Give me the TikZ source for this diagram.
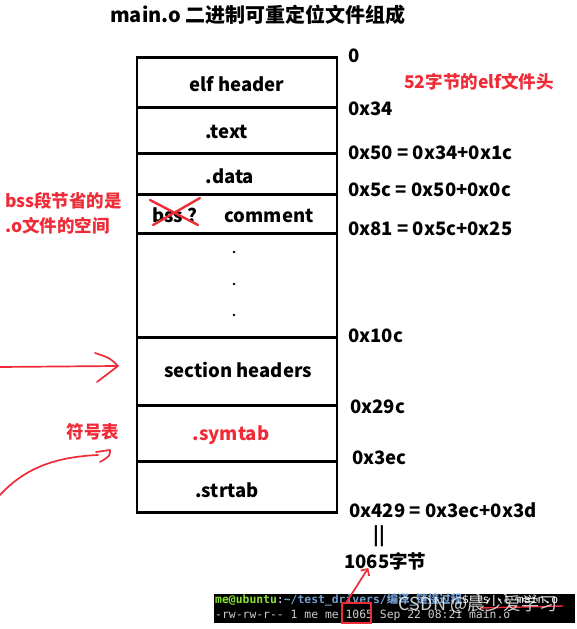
\documentclass[tikz,border=0pt]{standalone}
\usepackage{fontspec}
\setmainfont{Noto Sans CJK SC}
\newfontfamily\cjk{Noto Sans CJK SC}
\newfontfamily\termfont{DejaVu Sans Mono}
\usepackage{tikz}
\usetikzlibrary{calc, arrows.meta}

\definecolor{markred}{RGB}{238,44,56}
\definecolor{termgreen}{RGB}{138,226,52}
\definecolor{termblue}{RGB}{114,159,207}
\definecolor{termgray}{RGB}{205,205,205}

\tikzset{
  sec/.style={draw, line width=2.8pt, minimum width=200pt, anchor=north, inner sep=0pt},
  sectext/.style={font=\bfseries\fontsize{18.5}{20}\selectfont},
  addr/.style={anchor=west, inner sep=0pt, font=\bfseries\fontsize{18.5}{20}\selectfont},
  note/.style={text=markred, inner sep=0pt, font=\bfseries\fontsize{17.5}{20}\selectfont},
  scrawl/.style={markred, line width=1.7pt, line cap=round, line join=round},
  term/.style={anchor=west, inner sep=0pt, font=\termfont\fontsize{11.4}{12}\selectfont},
}

\begin{document}
\begin{tikzpicture}[x=1pt,y=-1pt]
        \useasboundingbox (0,0) rectangle (577,629);
        \pgfmathsetmacro{\bx}{237}
        \pgfmathsetmacro{\ax}{348}
        \node[font=\bfseries\fontsize{20}{22}\selectfont] (title) at (258,15) {main.o 二进制可重定位文件组成};
        % sections of the file
        \node[sec, minimum height=50pt] (elf) at (\bx,56) {};
        \node[sec, minimum height=46pt] (text) at (\bx,106) {};
        \node[sec, minimum height=41pt] (data) at (\bx,152) {};
        \node[sec, minimum height=39pt] (comment) at (\bx,193) {};
        \node[sec, minimum height=104pt] (gap) at (\bx,232) {};
        \node[sec, minimum height=68pt] (shdr) at (\bx,336) {};
        \node[sec, minimum height=56pt] (symtab) at (\bx,404) {};
        \node[sec, minimum height=51pt] (strtab) at (\bx,460) {};
        \node[sectext] (elfname) at ([yshift=-2pt]elf.center) {elf header};
        \node[sectext] (textname) at ([xshift=-10pt,yshift=-2pt]text.center) {.text};
        \node[sectext] (dataname) at ([xshift=-7pt,yshift=-2.5pt]data.center) {.data};
        \node[sectext] (commentname) at ([xshift=-4pt,yshift=-1.5pt]comment.center) {bss ?\hspace{27pt}comment};
        \node[sectext] (shdrname) at ([xshift=1pt,yshift=1pt]shdr.center) {section headers};
        \node[sectext, text=markred] (symtabname) at ([xshift=-6pt,yshift=-2pt]symtab.center) {.symtab};
        \node[sectext] (strtabname) at ([xshift=-10pt,yshift=-3.5pt]strtab.center) {.strtab};
        \fill (234,252) circle (1.4) (234,284) circle (1.4) (234,315) circle (1.4);
        % bss crossed out
        \draw[scrawl, line width=2.4pt] (150,200) -- (198,225);
        \draw[scrawl, line width=2.4pt] (153,225) -- (200,198);
        % offsets
        \node[addr] (o0) at (\ax,56) {0};
        \node[addr] (o34) at (\ax,109) {0x34};
        \node[addr] (o50) at (\ax,153) {0x50 = 0x34+0x1c};
        \node[addr] (o5c) at (\ax,190) {0x5c = 0x50+0x0c};
        \node[addr] (o81) at (\ax,229) {0x81 = 0x5c+0x25};
        \node[addr] (o10c) at (\ax,336) {0x10c};
        \node[addr] (o29c) at (\ax+2,407) {0x29c};
        \node[addr] (o3ec) at (\ax+4,458) {0x3ec};
        \node[addr] (o429) at (\ax+1,510) {0x429 = 0x3ec+0x3d};
        \node[addr, anchor=center] (eq) at (379,536) {||};
        \node[addr] (bytes) at (\ax-4,561) {1065字节};
        % red notes
        \node[note] (elfnote) at (479,82) {52字节的elf文件头};
        \node[note, anchor=west] (bssnote1) at (5,201) {bss段节省的是};
        \node[note, anchor=west] (bssnote2) at (5,226) {.o文件的空间};
        \node[note] (symnote) at (93,432) {符号表};
        \draw[scrawl] (0,367) -- (116,366);
        \draw[scrawl] (95,353) .. controls (110,358) .. (118,366) .. controls (108,374) .. (97,382);
        \draw[scrawl] (0,495) .. controls (25,468) and (55,457) .. (98,455);
        \draw[scrawl] (96,452) -- (110,450) .. controls (110,456) .. (100,462);
        % terminal
        \fill[black] (214,594) rectangle (575,623);
        \node[term] (cmd) at (215,600) {{\bfseries\color{termgreen}me@ubuntu}{\color{white}:}{\bfseries\color{termblue}\textasciitilde/test\_drivers/{\cjk 编译}\_{\cjk 链接过程}}{\color{white}\$ ls -l main.o}};
        \node[term, text=termgray] (listing) at (215,615) {-rw-rw-r-- 1 me me 1065 Sep 22 08:21 main.o};
        \node[draw=markred, line width=1.6pt, minimum width=29pt, minimum height=20pt, inner sep=0pt] (sizebox) at (356.5,613) {};
        \draw[scrawl, -{Straight Barb[length=5pt]}] ([xshift=-10pt]sizebox.north) -- ([xshift=-17pt,yshift=2pt]bytes.south);
        \draw[scrawl, line width=1.4pt] (480,608) -- (563,606);
        \node[text=white, opacity=0.8, font=\fontsize{18}{20}\selectfont] (wm) at (478,604) {CSDN @晨少爱学习};
\end{tikzpicture}
\end{document}
